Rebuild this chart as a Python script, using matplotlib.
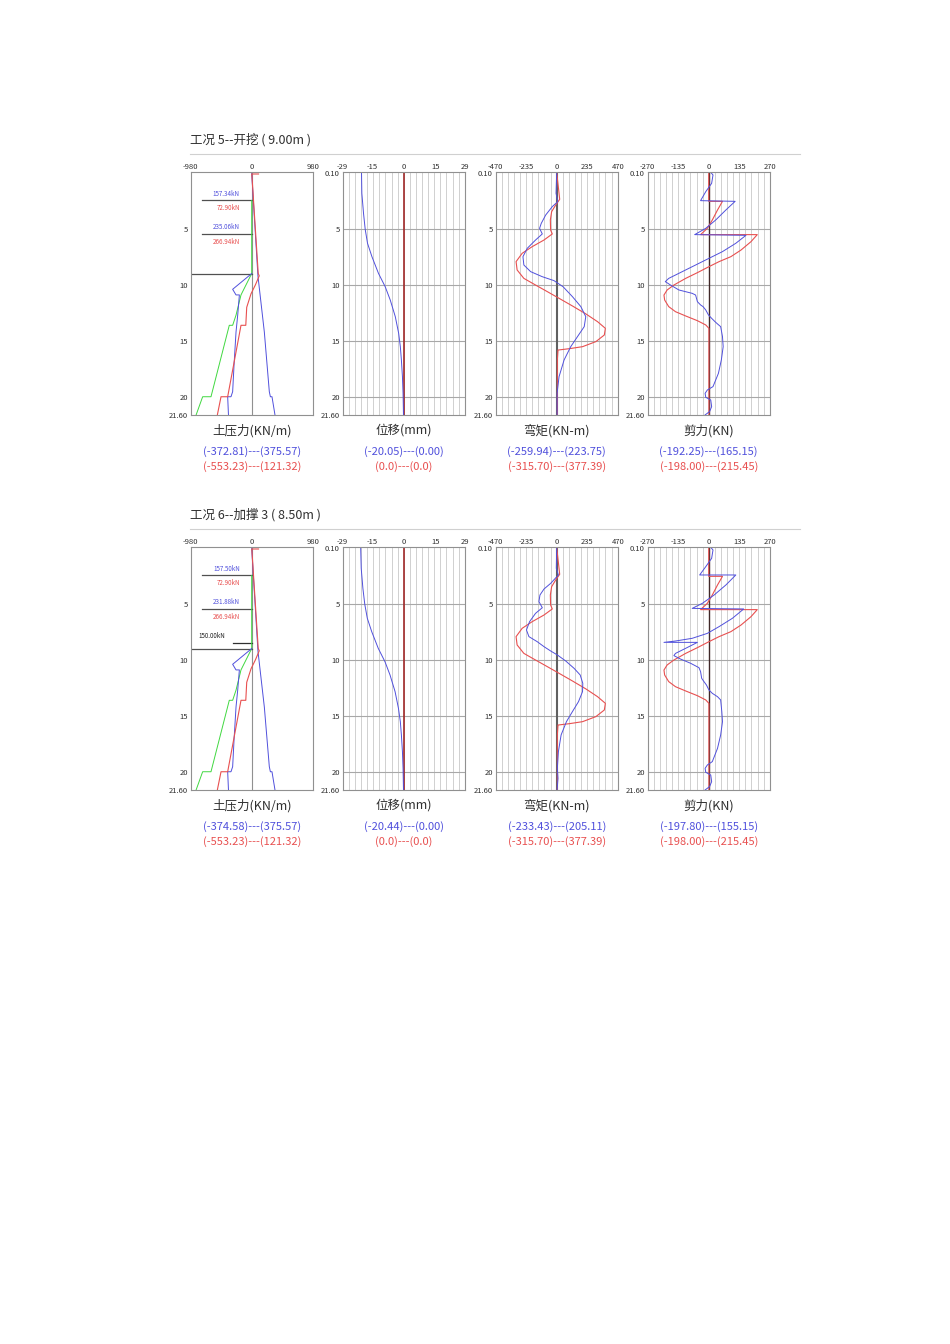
import numpy as np
import matplotlib.pyplot as plt

plt.rcParams['font.family'] = ['Noto Sans CJK SC', 'DejaVu Sans']

W, H = 950, 1344
BLUE = '#5050dc'
RED = '#e85050'
GREEN = '#40d840'

# ---------------- data (depth in m, value) ----------------
# earth pressure KN/m (same in both stages)
p_red_z = [0.15, 0.15, 0.4, 3.0, 6.0, 9.0, 9.2, 10.0, 10.8, 12.0, 13.6, 13.6, 19.95, 19.95, 21.6]
p_red_v = [110, 0, 5, 35, 70, 105, 121, 60, -11, -80, -95, -172, -386, -493, -553]
p_blue_r_z = [0.1, 9.2, 14.2, 19.5, 19.95, 19.95, 21.6]
p_blue_r_v = [0, 100, 203, 283, 300, 326, 375]
p_blue_l_z = [9.0, 10.4, 10.9, 10.9, 12.7, 14.2, 17.15, 19.5, 19.95, 19.95, 21.6]
p_blue_l_v = [0, -306, -252, -198, -225, -252, -284, -306, -333, -386, -373]
p_green_z = [2.5, 9.0, 10.9, 12.7, 13.6, 13.6, 19.95, 19.95, 21.6]
p_green_v = [0, 0, -172, -252, -306, -360, -654, -788, -895]

# displacement mm
d_z = [0.1, 1.87, 3.65, 5.07, 6.31, 7.5, 8.98, 10.17, 11.35, 12.83, 14.31, 15.5, 16.68, 18.17, 19.65, 21.6]
d5_v = [-20.05, -19.9, -19.1, -18.3, -17.2, -15.1, -12.0, -8.8, -6.4, -4.0, -2.4, -1.6, -1.1, -0.6, -0.3, -0.1]
d6_v = [-20.44, -20.2, -19.4, -18.5, -17.3, -15.2, -12.1, -8.9, -6.5, -4.1, -2.5, -1.6, -1.1, -0.6, -0.3, -0.1]

# bending moment KN-m
m_red_z = [0.0, 1.87, 2.4, 2.91, 3.5, 4.24, 5.13, 5.48, 6.02, 6.61, 7.2, 7.94, 8.68, 9.43, 10.02,
           10.61, 11.2, 11.88, 12.59, 13.28, 13.87, 14.46, 15.05, 15.5, 15.68, 15.8, 16.68, 21.6]
m_red_v = [0, 18, 23, -8, -39, -49, -47, -34, -98, -189, -266, -313, -305, -253, -163,
           -72, 18, 121, 225, 315, 375, 367, 302, 199, 96, 10, 5, 5]
m5_blue_z = [0.0, 1.87, 2.61, 3.05, 3.8, 4.54, 4.98, 5.48, 6.02, 6.76, 7.5, 8.24, 8.83, 9.28, 9.63,
             10.17, 11.05, 11.94, 12.83, 13.72, 14.61, 15.5, 16.68, 18.17, 19.65, 21.6]
m5_blue_v = [0, -5, 8, -34, -85, -119, -132, -111, -163, -227, -260, -253, -201, -111, -21,
             49, 121, 186, 224, 212, 160, 108, 57, 18, 3, 3]
m6_blue_z = [0.0, 1.87, 2.46, 3.2, 3.71, 4.24, 4.83, 5.37, 5.87, 6.61, 7.35, 7.94, 8.39, 8.83, 9.22,
             9.57, 10.11, 10.76, 11.35, 12.09, 12.83, 13.72, 14.61, 15.5, 16.68, 18.17, 19.65, 20.53, 21.6]
m6_blue_v = [0, -3, 13, -46, -98, -129, -137, -111, -163, -209, -233, -214, -150, -98, -46,
             5, 70, 134, 181, 201, 199, 168, 121, 75, 34, 13, 5, 10, 3]

# shear KN
s_red_z = [0.0, 2.58, 2.58, 3.35, 4.24, 4.98, 5.54, 5.54, 6.17, 6.91, 7.5, 7.94, 8.39, 8.92, 9.43,
           10.02, 10.46, 10.91, 11.35, 11.94, 12.39, 12.77, 13.19, 13.57, 13.87, 21.6]
s_red_v = [0, 0, 61, 39, 16, -6, -36, 215, 187, 143, 98, 46, 1, -50, -102,
           -154, -184, -198, -195, -177, -147, -102, -50, -13, 1, 1]
s5_blue_z = [0.0, 0.24, 0.98, 1.72, 2.52, 2.58, 3.35, 4.24, 4.98, 5.54, 5.6, 6.31, 7.05, 7.65, 8.39,
             8.98, 9.43, 9.72, 10.02, 10.46, 10.76, 10.91, 11.5, 11.79, 11.94, 12.24, 12.68, 12.98,
             13.28, 13.48, 13.72, 14.61, 15.5, 16.68, 17.87, 19.05, 19.35, 19.65, 20.0, 20.24,
             20.83, 21.27, 21.6]
s5_blue_v = [9, 19, 13, -13, -36, 117, 76, 31, -13, -62, 165, 120, 61, 1, -73,
             -132, -177, -192, -169, -132, -73, -58, -50, -36, -25, -13, -1, 13,
             28, 39, 53, 61, 64, 56, 43, 19, -6, -16, -13, 9,
             13, 4, -18]
s6_blue_z = [0.0, 0.24, 0.98, 1.72, 2.46, 2.46, 3.35, 4.24, 4.98, 5.43, 5.48, 6.31, 7.05, 7.65, 8.09,
             8.33, 8.45, 8.45, 8.98, 9.43, 9.63, 9.93, 10.31, 10.7, 11.05, 11.65, 11.94, 12.24,
             12.68, 12.98, 13.28, 13.57, 14.61, 15.5, 16.68, 17.87, 19.05, 19.35, 19.65, 20.0,
             20.24, 20.83, 21.27, 21.6]
s6_blue_v = [9, 19, 13, -13, -40, 120, 76, 24, -28, -73, 155, 105, 46, -6, -73,
             -147, -198, -50, -102, -147, -154, -125, -80, -43, -36, -31, -21, -10,
             1, 16, 39, 53, 58, 61, 53, 39, 16, -6, -16, -13,
             9, 13, 4, -18]

stages = [
    {'title': '工况 5--开挖 ( 9.00m )', 'top': 172.3,
     'struts': [(2.5, '157.34kN', '72.90kN'), (5.5, '235.06kN', '266.94kN')], 'extra': None,
     'disp': d5_v, 'mom': (m5_blue_z, m5_blue_v), 'shear': (s5_blue_z, s5_blue_v),
     'ranges': [('(-372.81)---(375.57)', '(-553.23)---(121.32)'),
                ('(-20.05)---(0.00)', '(0.0)---(0.0)'),
                ('(-259.94)---(223.75)', '(-315.70)---(377.39)'),
                ('(-192.25)---(165.15)', '(-198.00)---(215.45)')]},
    {'title': '工况 6--加撑 3 ( 8.50m )', 'top': 547.3,
     'struts': [(2.5, '157.50kN', '72.90kN'), (5.5, '231.88kN', '266.94kN')], 'extra': (8.5, '150.00kN'),
     'disp': d6_v, 'mom': (m6_blue_z, m6_blue_v), 'shear': (s6_blue_z, s6_blue_v),
     'ranges': [('(-374.58)---(375.57)', '(-553.23)---(121.32)'),
                ('(-20.44)---(0.00)', '(0.0)---(0.0)'),
                ('(-233.43)---(205.11)', '(-315.70)---(377.39)'),
                ('(-197.80)---(155.15)', '(-198.00)---(215.45)')]},
]

names = ['土压力(KN/m)', '位移(mm)', '弯矩(KN-m)', '剪力(KN)']
limits = [980, 29, 470, 270]
mid_labels = ['0', '-15', '-235', '-135']
mid_pos = [0, -15, -235, -135]
mid2_labels = [None, '15', '235', '135']
lefts = [190.7, 342.7, 495.7, 647.7]
PW, PH = 122, 243

fig = plt.figure(figsize=(W / 100, H / 100), dpi=100)


def fx(x):
    return x / W


def fy(y):
    return 1 - y / H


def setup_axes(ax, i, lim):
    ax.set_xlim(-lim, lim)
    ax.set_ylim(21.6, 0)
    for s in ax.spines.values():
        s.set_color('#909090')
        s.set_linewidth(0.8)
    ax.xaxis.tick_top()
    if i == 0:
        xt = [-lim, 0, lim]
        xl = ['-980', '0', '980']
    else:
        xt = [-lim, mid_pos[i], 0, -mid_pos[i], lim]
        xl = ['-%d' % lim, mid_labels[i], '0', mid2_labels[i], '%d' % lim]
    ax.set_xticks(xt)
    ax.set_xticklabels(xl)
    ax.tick_params(axis='x', length=0, pad=1, labelsize=5.5, colors='#303030')
    if i == 0:
        yt, yl = [5, 10, 15, 20, 21.6], ['5', '10', '15', '20', '21.60']
    else:
        yt, yl = [0.1, 5, 10, 15, 20, 21.6], ['0.10', '5', '10', '15', '20', '21.60']
    ax.set_yticks(yt)
    ax.set_yticklabels(yl)
    ax.tick_params(axis='y', length=0, pad=2, labelsize=5.5, colors='#303030')
    if i > 0:
        for g in np.linspace(-lim, lim, 21)[1:-1]:
            ax.axvline(g, color='#d0d0d0', lw=0.7, zorder=0)
        for d in [5, 10, 15, 20]:
            ax.axhline(d, color='#a8a8a8', lw=0.8, zorder=0)


for st in stages:
    top = st['top']
    fig.text(fx(190), fy(top - 33), st['title'], fontsize=9, color='#303030', va='center', ha='left')
    fig.add_artist(plt.Line2D([fx(190), fx(800)], [fy(top - 18), fy(top - 18)], color='#d0d0d0', lw=0.8))
    axes = []
    for i in range(4):
        ax = fig.add_axes([fx(lefts[i]), fy(top + PH), fx(PW), PH / H])
        setup_axes(ax, i, limits[i])
        axes.append(ax)
        cx = lefts[i] + PW / 2
        fig.text(fx(cx), fy(top + 258), names[i], fontsize=9, color='#303030', ha='center', va='center')
        fig.text(fx(cx), fy(top + 279), st['ranges'][i][0], fontsize=8, color=BLUE, ha='center', va='center')
        fig.text(fx(cx), fy(top + 294), st['ranges'][i][1], fontsize=8, color=RED, ha='center', va='center')

    # earth pressure
    ax = axes[0]
    ax.axvline(0, color='#909090', lw=0.8, zorder=1)
    ax.plot([-980, 0], [9.0, 9.0], color='#505050', lw=0.9)
    for z, tb, tr in st['struts']:
        ax.plot([-800, 0], [z, z], color='#505050', lw=0.9)
        ax.text(-190, z - 0.25, tb, color=BLUE, fontsize=4.5, ha='right', va='bottom')
        ax.text(-190, z + 0.3, tr, color=RED, fontsize=4.5, ha='right', va='top')
    if st['extra'] is not None:
        z, t = st['extra']
        ax.plot([-300, 0], [z, z], color='#303030', lw=0.9)
        ax.text(-420, z - 0.25, t, color='#202020', fontsize=4.5, ha='right', va='bottom')
    ax.plot(p_green_v, p_green_z, color=GREEN, lw=0.7)
    ax.plot(p_blue_l_v, p_blue_l_z, color=BLUE, lw=0.7)
    ax.plot(p_blue_r_v, p_blue_r_z, color=BLUE, lw=0.7)
    ax.plot(p_red_v, p_red_z, color=RED, lw=0.8)

    # displacement
    ax = axes[1]
    ax.axvline(0, color='#a02828', lw=1.2, zorder=2)
    ax.plot(st['disp'], d_z, color=BLUE, lw=0.7)

    # moment
    ax = axes[2]
    ax.axvline(0, color='#606060', lw=1.5, zorder=1)
    ax.plot(m_red_v, m_red_z, color=RED, lw=0.8)
    ax.plot(st['mom'][1], st['mom'][0], color=BLUE, lw=0.7)

    # shear
    ax = axes[3]
    ax.axvline(0, color='#402828', lw=1.0, zorder=1)
    ax.plot(s_red_v, s_red_z, color=RED, lw=0.8)
    ax.plot(st['shear'][1], st['shear'][0], color=BLUE, lw=0.7)

fig.savefig('out.png', dpi=100, facecolor='white')
